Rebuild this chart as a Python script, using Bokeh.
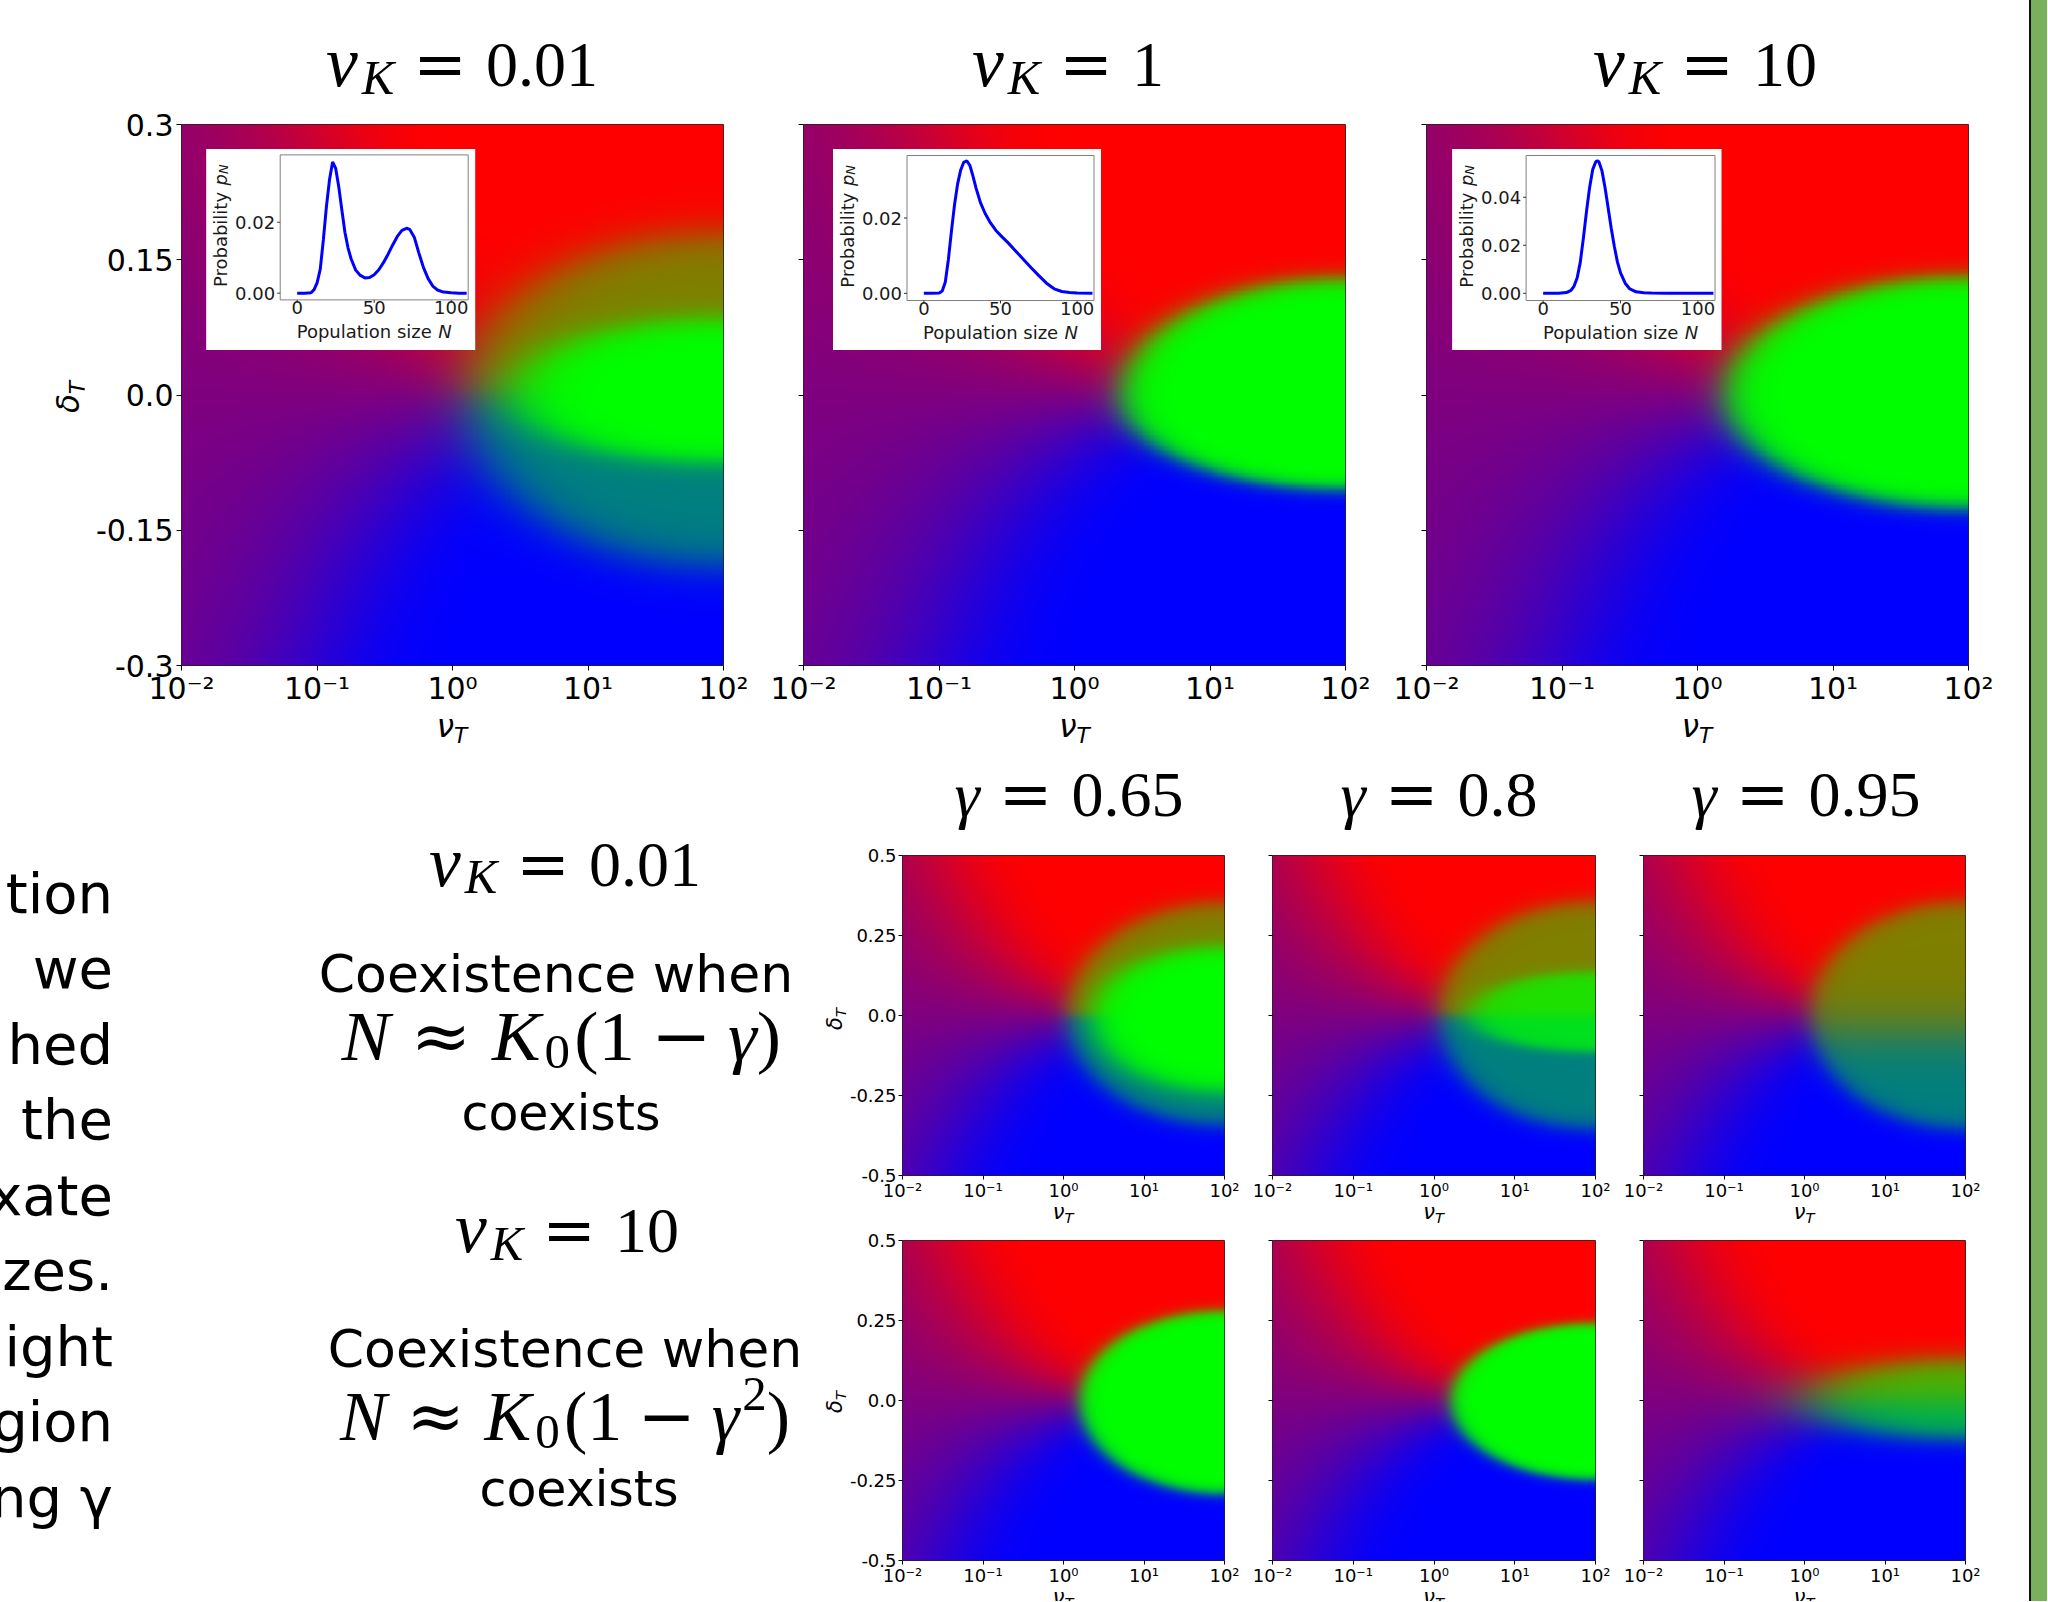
import numpy as np
from math import pi
from bokeh.plotting import figure
from bokeh.models import Range1d, Div, Spacer, FixedTicker, CustomJSTickFormatter
from bokeh.layouts import row, column
from bokeh.embed import file_html
from bokeh.resources import INLINE
from bokeh.core.properties import value

# ---------------- ticks, titles, texts ----------------
x_ticks = [-2, -1, 0, 1, 2]                      # log10(nu_T)
x_tick_labels = ["10⁻²", "10⁻¹", "10⁰", "10¹", "10²"]
top_y_ticks = [-0.3, -0.15, 0.0, 0.15, 0.3]
top_y_tick_labels = ["-0.3", "-0.15", "0.0", "0.15", "0.3"]
small_y_ticks = [-0.5, -0.25, 0.0, 0.25, 0.5]
small_y_tick_labels = ["-0.5", "-0.25", "0.0", "0.25", "0.5"]
top_nuK = ["0.01", "1", "10"]
gamma_values = ["0.65", "0.8", "0.95"]
side_nuK = ["0.01", "10"]
left_text_lines = ["tion", "we", "hed", "the", "xate", "izes.", "ight", "gion", "ng γ"]

# ---------------- inset curves: probability p_N vs population size N ----------------
inset_x_range = (-11, 111)
inset_x_ticks = [0, 50, 100]
inset_x_tick_labels = ["0", "50", "100"]
inset1_N = [0, 5, 9, 11, 13, 15, 17, 19, 21, 23, 25, 27, 29, 31, 33, 35, 38, 41, 44, 47, 50,
            53, 56, 59, 62, 65, 68, 71, 73, 76, 79, 82, 85, 88, 91, 95, 100, 105, 110]
inset1_p = [0, 0, 0.0001, 0.0010, 0.0030, 0.0068, 0.0150, 0.0244, 0.0320, 0.0370, 0.0352,
            0.0300, 0.0235, 0.0172, 0.0128, 0.0097, 0.0065, 0.0050, 0.0043, 0.0044, 0.0052,
            0.0066, 0.0086, 0.0110, 0.0136, 0.0160, 0.0177, 0.0183, 0.0180, 0.0158, 0.0113,
            0.0072, 0.0041, 0.0020, 0.0009, 0.0003, 0.0001, 0, 0]
inset2_N = [0, 5, 10, 12, 14, 16, 18, 20, 22, 24, 26, 28, 30, 32, 34, 37, 40, 43, 47, 51, 55,
            60, 65, 70, 75, 80, 85, 90, 95, 100, 110]
inset2_p = [0, 0, 0.0001, 0.0006, 0.0030, 0.0090, 0.0165, 0.0235, 0.0290, 0.0327, 0.0348,
            0.0352, 0.0340, 0.0312, 0.0280, 0.0240, 0.0212, 0.0190, 0.0167, 0.0150, 0.0134,
            0.0112, 0.0090, 0.0068, 0.0047, 0.0027, 0.0012, 0.0005, 0.0002, 0.0001, 0]
inset3_N = [0, 10, 15, 18, 20, 22, 24, 26, 28, 30, 32, 34, 35, 36, 38, 40, 42, 44, 46, 48, 50,
            53, 56, 60, 65, 70, 80, 90, 100, 110]
inset3_p = [0, 0, 0.0003, 0.0012, 0.0030, 0.0065, 0.0130, 0.0230, 0.0340, 0.0440, 0.0515,
            0.0548, 0.0552, 0.0548, 0.0510, 0.0440, 0.0355, 0.0270, 0.0195, 0.0130, 0.0085,
            0.0042, 0.0018, 0.0006, 0.0002, 0.0001, 0, 0, 0, 0]
inset_y_ranges = [(-0.0019, 0.0390), (-0.0019, 0.0366), (-0.0030, 0.0574)]
inset_y_ticks = [[0.0, 0.02], [0.0, 0.02], [0.0, 0.02, 0.04]]
inset_y_tick_labels = [["0.00", "0.02"], ["0.00", "0.02"], ["0.00", "0.02", "0.04"]]

# ---------------- phase regions (x in log10 nu_T, y = delta_T) ----------------
# top row: nu_K = 0.01, 1, 10
top_tip = [0.10, 0.35, 0.21]
top_outer_top = [0.18, 0.13, 0.132]
top_outer_bot = [0.19, 0.105, 0.126]
top_core_tip = [0.45, 0.35, 0.21]
top_core_top = [0.085, 0.13, 0.132]
top_core_bot = [0.075, 0.105, 0.126]
top_green_rim = [0.5, 1.0, 1.0]
top_green_core = [1.0, 1.0, 1.0]
top_split = [0.0, 0.0, 0.0]
top_split_w = [0.02, 0.02, 0.02]
top_edge = [0.13, 0.09, 0.09]
top_core_edge = [0.18, 0.1, 0.1]
top_bg = (0.61, 0.62)        # red/blue mixing steepness at nu_T=1e-2, growth per decade
# small panels: rows nu_K = 0.01, 10 ; columns gamma = 0.65, 0.8, 0.95
sm_tip = [[0.05, 0.06, 0.08], [0.21, 0.21, 0.05]]
sm_outer_top = [[0.355, 0.358, 0.358], [0.282, 0.243, 0.13]]
sm_outer_bot = [[0.345, 0.356, 0.356], [0.293, 0.249, 0.12]]
sm_core_tip = [[0.38, 0.45, 1.0], [0.21, 0.21, 0.05]]
sm_core_top = [[0.215, 0.137, 0.1], [0.282, 0.243, 0.13]]
sm_core_bot = [[0.24, 0.114, 0.1], [0.293, 0.249, 0.12]]
sm_green_rim = [[0.5, 0.5, 0.5], [1.0, 1.0, 0.7]]
sm_green_core = [[1.0, 0.88, 0.5], [1.0, 1.0, 0.7]]
sm_split = [[0.0, 0.0, -0.05], [0.0, 0.0, 0.0]]
sm_split_w = [[0.02, 0.02, 0.10], [0.02, 0.02, 0.05]]
sm_edge = [[0.09, 0.09, 0.09], [0.07, 0.07, 0.30]]
sm_core_edge = [[0.15, 0.15, 0.1], [0.1, 0.1, 0.1]]
sm_bg = (0.85, 0.50)


def phase_rgba(n, ymax, bg, tip, o_top, o_bot, w, c_tip, c_top, c_bot, cw,
               g_rim, g_core, split, split_w):
    xs = np.linspace(-2, 2, n)
    ys = np.linspace(-ymax, ymax, n)
    X, Y = np.meshgrid(xs, ys)
    k = bg[0] * 10 ** (bg[1] * (X + 2))
    r_bg = 0.5 + 0.5 * np.tanh(k * Y)
    cx = 2.0
    b = np.where(Y >= 0, o_top, o_bot)
    d = np.hypot((X - cx) / (cx - tip), Y / b)
    E = 0.5 * (1 - np.tanh((d - 1) / w))
    bc = np.where(Y >= 0, c_top, c_bot)
    dc = np.hypot((X - cx) / (cx - c_tip), Y / bc)
    Ec = 0.5 * (1 - np.tanh((dc - 1) / cw))
    g_in = g_rim + (g_core - g_rim) * Ec
    s = 0.5 + 0.5 * np.tanh((Y - split) / split_w)
    wg = E * g_in
    wr = E * (1 - g_in) * s + (1 - E) * r_bg
    wb = E * (1 - g_in) * (1 - s) + (1 - E) * (1 - r_bg)
    img = np.empty((n, n), dtype=np.uint32)
    v = img.view(dtype=np.uint8).reshape((n, n, 4))
    v[..., 0] = np.clip(wr * 255, 0, 255).astype(np.uint8)
    v[..., 1] = np.clip(wg * 255, 0, 255).astype(np.uint8)
    v[..., 2] = np.clip(wb * 255, 0, 255).astype(np.uint8)
    v[..., 3] = 255
    return img


def fmt(vals, labels):
    return CustomJSTickFormatter(
        args=dict(vals=list(vals), labels=list(labels)),
        code="for (let i = 0; i < vals.length; i++) { if (Math.abs(vals[i] - tick) < 1e-9) { return labels[i]; } } return '';")


def make_fig(w, h, mb, yr, yticks, ylabels, show_ylab, tick_font, tick_len, xstand, ystand):
    p = figure(width=w, height=h, x_range=Range1d(-2, 2), y_range=Range1d(*yr),
               output_backend="svg", toolbar_location=None, title=None,
               min_border_left=mb[0], min_border_right=mb[1],
               min_border_top=mb[2], min_border_bottom=mb[3])
    p.grid.visible = False
    p.outline_line_color = "#222222"
    p.outline_line_width = 1
    p.background_fill_color = "white"
    p.border_fill_color = "white"
    p.xaxis.ticker = FixedTicker(ticks=x_ticks)
    p.xaxis.formatter = fmt(x_ticks, x_tick_labels)
    p.yaxis.ticker = FixedTicker(ticks=yticks)
    p.yaxis.formatter = fmt(yticks, ylabels if show_ylab else [""] * len(yticks))
    for ax in (p.xaxis, p.yaxis):
        ax.axis_line_color = None
        ax.major_tick_in = 0
        ax.major_tick_out = tick_len
        ax.major_tick_line_color = "black"
        ax.minor_tick_line_color = None
        ax.major_label_text_font = "DejaVu Sans"
        ax.major_label_text_font_size = f"{tick_font}px"
        ax.major_label_text_color = "black"
    p.xaxis.major_label_standoff = xstand
    p.yaxis.major_label_standoff = ystand
    return p


def converters(yr, fw, fh):
    fx = lambda px: -2 + px / fw * 4.0
    fy = lambda py: yr[1] - py / fh * (yr[1] - yr[0])
    return fx, fy


def draw_inset(p, fx, fy, box, axb, N, P, yr, yt, ytl):
    p.quad(left=[fx(box[0])], right=[fx(box[2])], top=[fy(box[1])], bottom=[fy(box[3])],
           fill_color="white", line_color=None)
    sub = p.subplot(x_source=Range1d(*inset_x_range), y_source=Range1d(*yr),
                    x_target=Range1d(fx(axb[0]), fx(axb[2])),
                    y_target=Range1d(fy(axb[3]), fy(axb[1])))
    aw, ah = axb[2] - axb[0], axb[3] - axb[1]
    ux = aw / (inset_x_range[1] - inset_x_range[0])
    uy = ah / (yr[1] - yr[0])
    x0, y0 = inset_x_range[0], yr[0]
    sub.line(x=N, y=P, line_color="#0000ff", line_width=3)
    sub.quad(left=[inset_x_range[0]], right=[inset_x_range[1]], bottom=[yr[0]], top=[yr[1]],
             fill_color=None, line_color="#808080", line_width=1)
    nt = len(inset_x_ticks)
    sub.segment(x0=inset_x_ticks, y0=[y0] * nt, x1=inset_x_ticks, y1=[y0 - 3 / uy] * nt,
                line_color="#333333", line_width=1)
    sub.text(x=inset_x_ticks, y=[y0 - 1 / uy] * nt, text=inset_x_tick_labels,
             text_align="center", text_baseline="top", text_font=value("DejaVu Sans"),
             text_font_size=value("18px"), text_color="#1a1a1a")
    ny = len(yt)
    sub.segment(x0=[x0] * ny, y0=yt, x1=[x0 - 3 / ux] * ny, y1=yt, line_color="#333333", line_width=1)
    sub.text(x=[x0 - 5 / ux] * ny, y=yt, text=ytl, text_align="right", text_baseline="middle",
             text_font=value("DejaVu Sans"), text_font_size=value("18px"), text_color="#1a1a1a")
    ly = y0 - 31.7 / uy
    lx = x0 + (aw / 2 - 77.5) / ux
    sub.text(x=[lx], y=[ly], text=["Population size"], text_align="left", text_baseline="middle",
             text_font=value("DejaVu Sans"), text_font_size=value("18px"), text_color="#1a1a1a")
    sub.text(x=[lx + 141.6 / ux], y=[ly], text=["N"], text_align="left", text_baseline="middle",
             text_font=value("DejaVu Sans"), text_font_style="italic",
             text_font_size=value("18px"), text_color="#1a1a1a")
    xl = x0 - 60 / ux
    ys = yr[1] - (ah / 2 - 1.5 + 61.2) / uy
    sub.text(x=[xl], y=[ys], text=["Probability"], angle=pi / 2, text_align="left",
             text_baseline="middle", text_font=value("DejaVu Sans"),
             text_font_size=value("18px"), text_color="#1a1a1a")
    sub.text(x=[xl], y=[ys + 101.6 / uy], text=["p"], angle=pi / 2, text_align="left",
             text_baseline="middle", text_font=value("DejaVu Sans"), text_font_style="italic",
             text_font_size=value("18px"), text_color="#1a1a1a")
    sub.text(x=[xl + 3.6 / ux], y=[ys + 113.0 / uy], text=["N"], angle=pi / 2, text_align="left",
             text_baseline="middle", text_font=value("DejaVu Sans"), text_font_style="italic",
             text_font_size=value("13px"), text_color="#1a1a1a")


# ---------------- top row of maps ----------------
TOP_YR = (-0.3, 0.3)
TFW, TFH = 542, 541
top_w = [678, 623, 625]
top_mb = [(97, 39, 24, 46), (41, 40, 24, 46), (41, 42, 24, 46)]
inset_box = [(24.7, 24.4, 293.7, 225.4), (29.5, 24.4, 297.5, 225.4), (25.6, 24.4, 295.0, 225.4)]
inset_axes = [(98.7, 30.4, 286.7, 175.4), (103.5, 31.0, 290.5, 176.0), (99.6, 31.0, 288.5, 176.0)]
inset_N = [inset1_N, inset2_N, inset3_N]
inset_p = [inset1_p, inset2_p, inset3_p]

top_figs = []
for i in range(3):
    p = make_fig(top_w[i], 611, top_mb[i], TOP_YR, top_y_ticks, top_y_tick_labels, i == 0, 30, 5, 0, 3)
    img = phase_rgba(220, 0.3, top_bg, top_tip[i], top_outer_top[i], top_outer_bot[i], top_edge[i],
                     top_core_tip[i], top_core_top[i], top_core_bot[i], top_core_edge[i],
                     top_green_rim[i], top_green_core[i], top_split[i], top_split_w[i])
    p.image_rgba(image=[img], x=-2, y=TOP_YR[0], dw=4, dh=TOP_YR[1] - TOP_YR[0])
    fx, fy = converters(TOP_YR, TFW, TFH)
    draw_inset(p, fx, fy, inset_box[i], inset_axes[i], inset_N[i], inset_p[i],
               inset_y_ranges[i], inset_y_ticks[i], inset_y_tick_labels[i])
    top_figs.append(p)

# ---------------- small maps ----------------
SM_YR = (-0.5, 0.5)
sm_w = [402, 371, 391]
sm_lr = [(56, 24), (24, 24), (24, 45)]
sm_h = [368, 360]
sm_tb = [(20, 26), (12, 26)]
sm_rows = []
for r in range(2):
    figs = []
    for c in range(3):
        mb = (sm_lr[c][0], sm_lr[c][1], sm_tb[r][0], sm_tb[r][1])
        p = make_fig(sm_w[c], sm_h[r], mb, SM_YR, small_y_ticks, small_y_tick_labels, c == 0, 18, 4, 0, 2)
        img = phase_rgba(160, 0.5, sm_bg, sm_tip[r][c], sm_outer_top[r][c], sm_outer_bot[r][c],
                         sm_edge[r][c], sm_core_tip[r][c], sm_core_top[r][c], sm_core_bot[r][c],
                         sm_core_edge[r][c], sm_green_rim[r][c], sm_green_core[r][c],
                         sm_split[r][c], sm_split_w[r][c])
        p.image_rgba(image=[img], x=-2, y=SM_YR[0], dw=4, dh=SM_YR[1] - SM_YR[0])
        figs.append(p)
    sm_rows.append(row(*figs))

# ---------------- text blocks (HTML) ----------------
SERIF = "'Liberation Serif', serif"
SANS = "'DejaVu Sans', sans-serif"
EQ = "font-family:'DejaVu Serif',serif"


def sub_html(t, size=70, drop=0.16):
    return (f'<span style="font-size:{size}%;position:relative;top:{drop}em;margin-left:0.08em;'
            f'line-height:0">{t}</span>')


def nuK_html(v):
    return ('<i style="font-size:112%;line-height:0">ν</i>' + sub_html('<i>K</i>', 76) +
            f'<span style="{EQ};margin:0 0.3em">=</span>' + v)


def gamma_html(v):
    return f'<i>γ</i><span style="{EQ};margin:0 0.3em">=</span>' + v


def coex_html(square, scale):
    sup = ('<span style="font-size:70%;position:relative;top:-0.62em;margin-left:0.06em;line-height:0">2</span>'
           if square else '')
    inner = (f'<i>N</i><span style="{EQ};margin:0 0.28em">≈</span><i>K</i>' + sub_html('0') +
             f'<span style="margin-left:0.06em">(</span>1<span style="{EQ};margin:0 0.22em">−</span><i>γ</i>'
             + sup + ')')
    return f'<span style="display:inline-block;transform:scaleX({scale})">{inner}</span>'


AX_T = '<i>ν</i><span style="font-size:70%;position:relative;top:0.28em"><i>T</i></span>'
AX_D = '<i>δ</i><span style="font-size:70%;position:relative;top:0.28em"><i>T</i></span>'


def line_div(baseline, cx, html, family, size, ratio, width=800, extra=""):
    top = baseline - ratio * size
    return (f'<div style="position:absolute;left:{cx - width / 2:.1f}px;width:{width}px;top:{top:.1f}px;'
            f'text-align:center;white-space:nowrap;font-family:{family};font-size:{size}px;'
            f'line-height:1;color:#000;{extra}">{html}</div>')


def centered(cx, cy, html, size, rotate=False):
    tr = "translate(-50%,-50%)" + (" rotate(-90deg)" if rotate else "")
    return (f'<div style="position:absolute;left:{cx:.1f}px;top:{cy:.1f}px;transform:{tr};'
            f'white-space:nowrap;font-family:{SANS};font-size:{size}px;line-height:1;color:#000">{html}</div>')


def box(w, h, inner, clip=False):
    ov = "hidden" if clip else "visible"
    return f'<div style="position:relative;width:{w}px;height:{h}px;overflow:{ov}">{inner}</div>'


R_SERIF, R_SANS = 0.8375, 0.846

# top titles
tw = [600, 612, 610]
tc = [300, 306, 305]
title_divs = [Div(text=box(tw[i], 100, line_div(86, tc[i], nuK_html(top_nuK[i]), SERIF, 64, R_SERIF, width=tw[i])),
                  width=tw[i], height=100, margin=0) for i in range(3)]
top_title_row = row(Spacer(width=162, height=100), title_divs[0], title_divs[1],
                    Spacer(width=26, height=100), title_divs[2])

# delta_T label of the first big map and nu_T labels under the big maps
top_delta = Div(text=box(84, 611, centered(68, 297, AX_D, 31, rotate=True)), width=84, height=611, margin=0)
top_fig_row = row(top_delta, *top_figs)
top_nuT = Div(text=box(2010, 55, "".join(centered(c, 15, AX_T, 31) for c in (452, 1074.5, 1697))),
              width=2010, height=55, margin=0)

# gamma titles
gw = [462, 262, 408]
gc = [223, 131, 204]
g_divs = [Div(text=box(gw[i], 69, line_div(50, gc[i], gamma_html(gamma_values[i]), SERIF, 64, R_SERIF, width=gw[i])),
              width=gw[i], height=69, margin=0) for i in range(3)]
gamma_row = row(g_divs[0], g_divs[1], Spacer(width=32, height=69), g_divs[2])

sm_centers = (217, 587.5, 958)
sm_nuT1 = Div(text=box(1164, 25, "".join(centered(c, 8.5, AX_T, 21) for c in sm_centers)),
              width=1164, height=25, margin=0)
sm_nuT2 = Div(text=box(1164, 13, "".join(centered(c, 8.5, AX_T, 21) for c in sm_centers), clip=True),
              width=1164, height=13, margin=0)
grid_col = column(gamma_row, sm_rows[0], sm_nuT1, sm_rows[1], sm_nuT2)

sm_delta = Div(text=box(24, 835, centered(13, 253, AX_D, 21, rotate=True) +
                        centered(13, 636, AX_D, 21, rotate=True)), width=24, height=835, margin=0)

# left cut-off paragraph
lines = ""
for i, t in enumerate(left_text_lines):
    base = 147 + 75.5 * i
    top = base - R_SANS * 56
    lines += (f'<div style="position:absolute;right:12px;top:{top:.1f}px;white-space:nowrap;'
              f'font-family:{SANS};font-size:56px;line-height:1;color:#000">{t}</div>')
left_div = Div(text=box(125, 835, lines, clip=True), width=125, height=835, margin=0)

# central explanation
center_lines = [
    (119.3, 440, nuK_html(side_nuK[0]), SERIF, 64, R_SERIF),
    (225.7, 431, "Coexistence when", SANS, 52, R_SANS),
    (294.0, 436, coex_html(False, 1.04), SERIF, 70, R_SERIF),
    (364.0, 436, "coexists", SANS, 49, R_SANS),
    (486.0, 442, nuK_html(side_nuK[1]), SERIF, 64, R_SERIF),
    (600.9, 440, "Coexistence when", SANS, 52, R_SANS),
    (674.0, 440, coex_html(True, 1.0), SERIF, 70, R_SERIF),
    (740.5, 454, "coexists", SANS, 49, R_SANS),
]
cl = "".join(line_div(b, c, h, f, s, rt, width=680) for b, c, h, f, s, rt in center_lines)
center_div = Div(text=box(697, 835, cl), width=697, height=835, margin=0)

bottom = row(left_div, center_div, sm_delta, grid_col)
main_col = column(top_title_row, top_fig_row, top_nuT, bottom)

green_bar = Div(text="", width=18, height=1601, margin=0,
                styles={"background-color": "#78b159", "border-left": "2px solid #111111",
                        "box-sizing": "border-box"})
page = row(main_col, Spacer(width=19, height=1601), green_bar)

open("out.html", "w").write(file_html(page, INLINE, title="phase diagrams"))
